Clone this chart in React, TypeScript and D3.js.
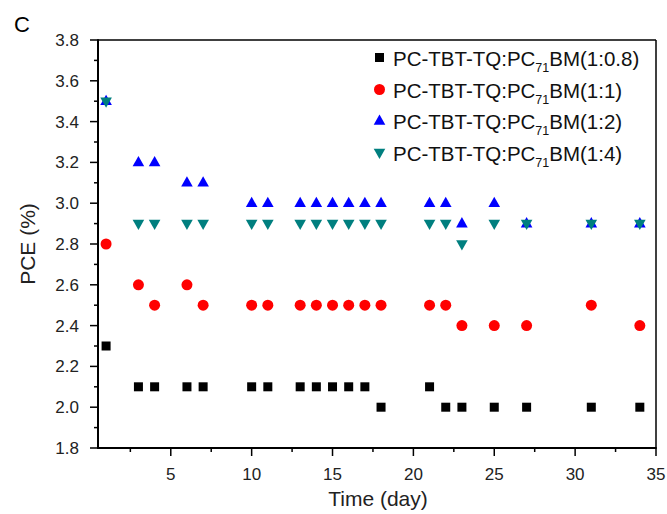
import React from "react";
import * as d3 from "d3";

const days = [1, 3, 4, 6, 7, 10, 11, 13, 14, 15, 16, 17, 18, 21, 22, 23, 25, 27, 31, 34];
const s08 = [2.3, 2.1, 2.1, 2.1, 2.1, 2.1, 2.1, 2.1, 2.1, 2.1, 2.1, 2.1, 2.0, 2.1, 2.0, 2.0, 2.0, 2.0, 2.0, 2.0];
const s1 = [2.8, 2.6, 2.5, 2.6, 2.5, 2.5, 2.5, 2.5, 2.5, 2.5, 2.5, 2.5, 2.5, 2.5, 2.5, 2.4, 2.4, 2.4, 2.5, 2.4];
const s2 = [3.5, 3.2, 3.2, 3.1, 3.1, 3.0, 3.0, 3.0, 3.0, 3.0, 3.0, 3.0, 3.0, 3.0, 3.0, 2.9, 3.0, 2.9, 2.9, 2.9];
const s4 = [3.5, 2.9, 2.9, 2.9, 2.9, 2.9, 2.9, 2.9, 2.9, 2.9, 2.9, 2.9, 2.9, 2.9, 2.9, 2.8, 2.9, 2.9, 2.9, 2.9];
const ratios = ["1:0.8", "1:1", "1:2", "1:4"];
const xTicks = [5, 10, 15, 20, 25, 30, 35];
const yTicks = [1.8, 2.0, 2.2, 2.4, 2.6, 2.8, 3.0, 3.2, 3.4, 3.6, 3.8];

const W = 667, H = 514;
const L = 98, R = 656, T = 40, B = 448;
const font = "Arial, 'Liberation Sans', sans-serif";

type Kind = "square" | "circle" | "up" | "down";
const series: { vals: number[]; kind: Kind; color: string }[] = [
  { vals: s08, kind: "square", color: "#000000" },
  { vals: s1, kind: "circle", color: "#ff0000" },
  { vals: s2, kind: "up", color: "#0000ff" },
  { vals: s4, kind: "down", color: "#007f7f" },
];

function Marker({ kind, x, y, color }: { kind: Kind; x: number; y: number; color: string }) {
  if (kind === "square") return <rect x={x - 4.5} y={y - 4.5} width={9} height={9} fill={color} />;
  if (kind === "circle") return <circle cx={x} cy={y} r={5.5} fill={color} />;
  if (kind === "up")
    return <path d={`M${x},${y - 6.5}L${x + 5.8},${y + 3.8}L${x - 5.8},${y + 3.8}Z`} fill={color} />;
  return <path d={`M${x},${y + 6.5}L${x + 5.8},${y - 3.8}L${x - 5.8},${y - 3.8}Z`} fill={color} />;
}

export default function App() {
  const x = d3.scaleLinear().domain([0.5, 35]).range([L, R]);
  const y = d3.scaleLinear().domain([1.8, 3.8]).range([B, T]);
  const xMinor = d3.range(2.5, 35, 5);
  const yMinor = d3.range(1.9, 3.8, 0.2);
  const legendY = [58, 89.5, 121, 152.5];

  return (
    <svg width={W} height={H} style={{ position: "absolute", left: 0, top: 0 }} fontFamily={font}>
      <rect width={W} height={H} fill="#fff" />
      <text x={14} y={32} fontSize={22} fill="#000">C</text>
      {/* frame */}
      <line x1={L} x2={R} y1={T} y2={T} stroke="#000" strokeWidth={1.5} />
      <line x1={R} x2={R} y1={T} y2={B} stroke="#000" strokeWidth={1.5} />
      <line x1={L} x2={L} y1={T - 0.75} y2={B + 1} stroke="#000" strokeWidth={2} />
      <line x1={L - 1} x2={R + 0.75} y1={B} y2={B} stroke="#000" strokeWidth={2} />
      {/* x ticks */}
      {xTicks.map((t) => (
        <g key={"xt" + t}>
          <line x1={x(t)} x2={x(t)} y1={B} y2={B + 8} stroke="#000" strokeWidth={1.5} />
          <text x={x(t)} y={B + 32} fontSize={17} textAnchor="middle" fill="#222">{t}</text>
        </g>
      ))}
      {xMinor.map((t) => (
        <line key={"xm" + t} x1={x(t)} x2={x(t)} y1={B} y2={B + 4} stroke="#000" strokeWidth={1.5} />
      ))}
      {yTicks.map((t) => (
        <g key={"yt" + t}>
          <line x1={L - 8} x2={L} y1={y(t)} y2={y(t)} stroke="#000" strokeWidth={1.5} />
          <text x={L - 19} y={y(t) + 6} fontSize={17} textAnchor="end" fill="#222">{t.toFixed(1)}</text>
        </g>
      ))}
      {yMinor.map((t) => (
        <line key={"ym" + t} x1={L - 4} x2={L} y1={y(t)} y2={y(t)} stroke="#000" strokeWidth={1.5} />
      ))}
      <text x={378} y={506} fontSize={21} textAnchor="middle" fill="#222">Time (day)</text>
      <text transform={`translate(35,${(T + B) / 2}) rotate(-90)`} fontSize={21} textAnchor="middle" fill="#222">PCE (%)</text>
      {/* data */}
      {series.map((s, si) => (
        <g key={"s" + si}>
          {days.map((d, i) => (
            <Marker key={i} kind={s.kind} x={x(d)} y={y(s.vals[i])} color={s.color} />
          ))}
        </g>
      ))}
      {/* legend */}
      {series.map((s, i) => (
        <g key={"lg" + i}>
          <Marker kind={s.kind} x={379.5} y={legendY[i] - (s.kind === "square" ? 0.5 : 0)} color={s.color} />
          <text x={393} y={legendY[i] + 8} fontSize={20.5} fill="#111">
            PC-TBT-TQ:PC
            <tspan fontSize={12.5} dy={6}>71</tspan>
            <tspan dy={-6}>BM({ratios[i]})</tspan>
          </text>
        </g>
      ))}
    </svg>
  );
}
